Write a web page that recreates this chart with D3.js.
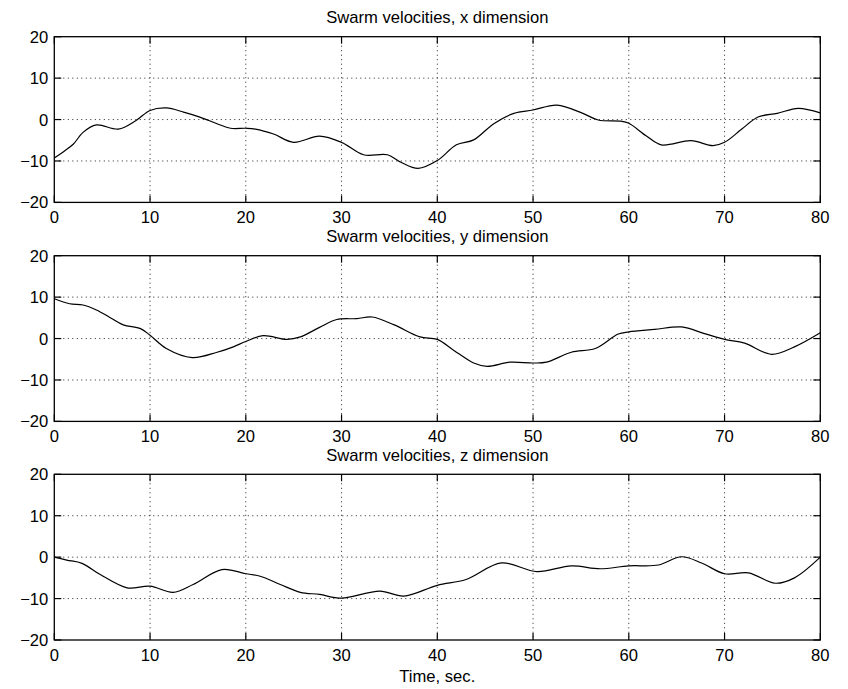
<html>
<head>
<script src="https://d3js.org/d3.v7.min.js"></script>
<style>
	body {margin: 0; background: #fff;}
	text {font-family: "Liberation Sans", Arial, Helvetica, sans-serif; fill: #000;}
</style>
</head>
<body>
<div id="chart"></div>
<script>
// values (time in sec., velocity)
var timeX = [0, 1, 2, 3, 4.4, 6.7, 8.5, 10, 11.7, 13.5, 15.2, 17, 18.4, 20, 21, 22.9, 25, 27.7, 30, 32.3, 34.8, 36.2, 38, 40, 42, 43.8, 45.9, 48, 50, 52.5, 55.2, 56.8, 59.2, 60, 61.8, 63.4, 66.5, 68.8, 70, 71.8, 73.5, 75.5, 77.7, 80];
var velX = [-9.3, -7.7, -5.9, -3.1, -1.3, -2.3, -0.3, 2.2, 2.8, 1.8, 0.6, -1, -2.1, -2.1, -2.3, -3.5, -5.5, -4.0, -5.5, -8.5, -8.5, -10.3, -11.8, -9.9, -6.1, -4.9, -1, 1.5, 2.3, 3.5, 1.5, -0.1, -0.4, -0.9, -3.9, -6.1, -5.1, -6.3, -5.5, -2.3, 0.6, 1.5, 2.7, 1.6];

var timeY = [0, 1.6, 3, 4.4, 5.8, 7.2, 9, 10, 11.7, 14.4, 17, 18.7, 20, 21.8, 24.3, 25.7, 27.7, 29.5, 31.6, 33.2, 35.5, 38.2, 40, 41.7, 43.8, 45.2, 47.6, 50, 51.4, 54, 56.5, 58.9, 60, 62.7, 65.5, 67.9, 70, 72.1, 74.9, 77.3, 80];
var velY = [9.6, 8.4, 8.1, 6.9, 5.1, 3.3, 2.4, 0.8, -2.4, -4.6, -3.3, -2, -0.7, 0.7, -0.2, 0.4, 2.7, 4.6, 4.8, 5.2, 3.3, 0.4, -0.2, -2.8, -5.9, -6.7, -5.7, -5.9, -5.7, -3.3, -2.4, 1.1, 1.6, 2.2, 2.8, 1.2, -0.2, -1.1, -3.8, -2, 1.4];

var timeZ = [0, 1.3, 2.9, 4.8, 7.6, 10, 12.4, 14.5, 17.5, 20, 21.5, 23.6, 25.7, 27.7, 30, 34, 36.5, 40, 43, 46.7, 50.4, 54, 57, 60, 63.1, 65.5, 67.6, 70, 72.5, 75.3, 77.3, 80];
var velZ = [0, -0.7, -1.5, -4.2, -7.4, -7, -8.5, -6.6, -3, -4, -4.6, -6.6, -8.5, -9, -9.9, -8.2, -9.4, -6.8, -5.4, -1.4, -3.5, -2.1, -2.8, -2.1, -1.9, 0.1, -1.4, -4, -3.8, -6.3, -5, 0];

var titles = ["Swarm velocities, x dimension", "Swarm velocities, y dimension", "Swarm velocities, z dimension"];
var xTicks = [0, 10, 20, 30, 40, 50, 60, 70, 80];
var yTicks = [-20, -10, 0, 10, 20];
var xLabel = "Time, sec.";

var width = 848, height = 689;
var left = 54.3, plotW = 766, plotH = 165.7;
var tops = [36.7, 255.7, 474.3];
var tickLen = 7;
var fontSize = "16.6px";

var svg = d3.select("#chart").append("svg")
	.attr("width", width)
	.attr("height", height);

var xScale = d3.scaleLinear().domain([0, 80]).range([0, plotW]);
var yScale = d3.scaleLinear().domain([-20, 20]).range([plotH, 0]);

var series = [[timeX, velX], [timeY, velY], [timeZ, velZ]];

series.forEach(function(s, i) {
	var g = svg.append("g").attr("transform", "translate(" + left + "," + tops[i] + ")");

	// dotted grid
	xTicks.slice(1, -1).forEach(function(t) {
		g.append("line")
			.attr("x1", xScale(t)).attr("x2", xScale(t))
			.attr("y1", 0).attr("y2", plotH)
			.style("stroke", "#222").style("stroke-width", 1)
			.style("stroke-dasharray", "1,3.5");
	});
	yTicks.slice(1, -1).forEach(function(v) {
		g.append("line")
			.attr("x1", 0).attr("x2", plotW)
			.attr("y1", yScale(v)).attr("y2", yScale(v))
			.style("stroke", "#222").style("stroke-width", 1)
			.style("stroke-dasharray", "1,3.5");
	});

	// the curve
	var pts = s[0].map(function(t, k) { return [t, s[1][k]]; });
	g.append("path")
		.datum(pts)
		.attr("d", d3.line()
			.x(function(d) { return xScale(d[0]); })
			.y(function(d) { return yScale(d[1]); })
			.curve(d3.curveCatmullRom.alpha(0.5)))
		.style("fill", "none")
		.style("stroke", "#000")
		.style("stroke-width", 1.2);

	// inward ticks on all four sides
	xTicks.forEach(function(t) {
		g.append("line").attr("x1", xScale(t)).attr("x2", xScale(t))
			.attr("y1", plotH).attr("y2", plotH - tickLen)
			.style("stroke", "#000").style("stroke-width", 1.2);
		g.append("line").attr("x1", xScale(t)).attr("x2", xScale(t))
			.attr("y1", 0).attr("y2", tickLen)
			.style("stroke", "#000").style("stroke-width", 1.2);
		g.append("text")
			.attr("x", xScale(t)).attr("y", plotH + 9)
			.attr("dy", "0.71em")
			.attr("text-anchor", "middle")
			.style("font-size", fontSize)
			.text(t);
	});
	yTicks.forEach(function(v) {
		g.append("line").attr("x1", 0).attr("x2", tickLen)
			.attr("y1", yScale(v)).attr("y2", yScale(v))
			.style("stroke", "#000").style("stroke-width", 1.2);
		g.append("line").attr("x1", plotW).attr("x2", plotW - tickLen)
			.attr("y1", yScale(v)).attr("y2", yScale(v))
			.style("stroke", "#000").style("stroke-width", 1.2);
		g.append("text")
			.attr("x", -6).attr("y", yScale(v))
			.attr("dy", "0.36em")
			.attr("text-anchor", "end")
			.style("font-size", fontSize)
			.text(v < 0 ? "\u2212" + Math.abs(v) : v);
	});

	// box
	g.append("rect")
		.attr("width", plotW).attr("height", plotH)
		.style("fill", "none").style("stroke", "#000").style("stroke-width", 1.3);

	// title
	g.append("text")
		.attr("x", plotW / 2).attr("y", -13.5)
		.attr("text-anchor", "middle")
		.style("font-size", fontSize)
		.text(titles[i]);
});

svg.append("text")
	.attr("x", left + plotW / 2).attr("y", 681.5)
	.attr("text-anchor", "middle")
	.style("font-size", fontSize)
	.text(xLabel);
</script>
</body>
</html>
